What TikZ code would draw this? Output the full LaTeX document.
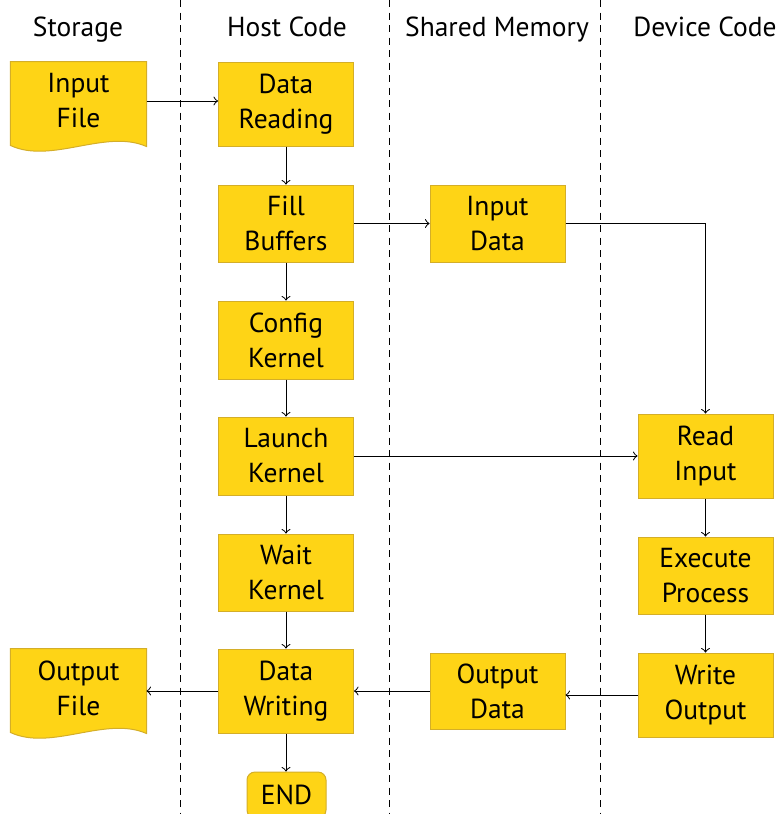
\documentclass[tikz,border=0pt]{standalone}
\usepackage{fontspec}
\setmainfont{PT Sans}
\usetikzlibrary{calc,backgrounds}
\definecolor{boxfill}{RGB}{254,212,22}
\definecolor{boxline}{RGB}{212,174,40}

\begin{document}
\begin{tikzpicture}[x=0.4pt,y=-0.4pt,
  every node/.style={font=\fontsize{11}{14}\selectfont, align=center, inner sep=0pt},
  procbox/.style={draw=boxline, fill=boxfill, line width=0.4pt, minimum width=54pt},
  docbox/.style={minimum width=54pt, minimum height=31.2pt},
  docfill/.style={draw=boxline, fill=boxfill, line width=0.4pt},
  endbox/.style={procbox, rounded corners=3.2pt, minimum width=31.6pt, minimum height=18.4pt},
  lane/.style={dashed, dash pattern=on 2.8pt off 2.2pt, line width=0.4pt},
  arr/.style={->, line width=0.4pt},
  header/.style={anchor=base}]

\useasboundingbox (0,0) rectangle (783,814);
\clip (0,0) rectangle (783,814);

% lane separators
\draw[lane] (180,0) -- (180,814);
\draw[lane] (389,0) -- (389,814);
\draw[lane] (600,0) -- (600,814);

% lane titles
\node[header] (hS) at (78,36)  {Storage};
\node[header] (hH) at (287,36) {Host Code};
\node[header] (hM) at (497,36) {Shared Memory};
\node[header] (hD) at (705,36) {Device Code};

% storage files
\node[docbox] (inF) at (78.5,101) {Input\\File};
\node[docbox] (ofl) at (78.5,688) {Output\\File};
\begin{scope}[on background layer]
  \foreach \d in {inF,ofl}{
    \path[docfill] (\d.north west) -- (\d.north east)
      -- ($(\d.south east)+(0,6)$)
      .. controls ($(\d.south east)+(-41,-12)$) and ($(\d.south west)+(41,24)$)
      .. ($(\d.south west)+(0,5)$) -- cycle;
  }
\end{scope}

% host code
\node[procbox, minimum height=33.6pt] (dr) at (286,104)   {Data\\Reading};
\node[procbox, minimum height=30.8pt] (fb) at (286,223.5) {Fill\\Buffers};
\node[procbox, minimum height=31.2pt] (ck) at (286,340)   {Config\\Kernel};
\node[procbox, minimum height=31.2pt] (lk) at (286,456)   {Launch\\Kernel};
\node[procbox, minimum height=30.8pt] (wk) at (286,572.5) {Wait\\Kernel};
\node[procbox, minimum height=33.6pt] (dw) at (286,691)   {Data\\Writing};
\node[endbox] (end) at (286.5,795) {END};

% shared memory
\node[procbox, minimum height=30.8pt] (id) at (497.5,223.5) {Input\\Data};
\node[procbox, minimum height=30.4pt] (od) at (497.5,691)   {Output\\Data};

% device code
\node[procbox, minimum height=33.6pt] (ri) at (705.5,456)   {Read\\Input};
\node[procbox, minimum height=30.8pt] (ep) at (705.5,575.5) {Execute\\Process};
\node[procbox, minimum height=33.6pt] (wo) at (705.5,695)   {Write\\Output};

% flow
\draw[arr] (inF.east) -- (inF.east -| dr.west);
\draw[arr] (dr) -- (fb);
\draw[arr] (fb) -- (id);
\draw[arr] (id.east) -| (ri.north);
\draw[arr] (fb) -- (ck);
\draw[arr] (ck) -- (lk);
\draw[arr] (lk) -- (ri);
\draw[arr] (lk) -- (wk);
\draw[arr] (wk) -- (dw);
\draw[arr] (ri) -- (ep);
\draw[arr] (ep) -- (wo);
\draw[arr] (wo.west) -- (wo.west -| od.east);
\draw[arr] (od) -- (dw);
\draw[arr] (dw.west) -- (dw.west -| ofl.east);
\draw[arr] (dw.south) -- (dw.south |- end.north);
\end{tikzpicture}
\end{document}
